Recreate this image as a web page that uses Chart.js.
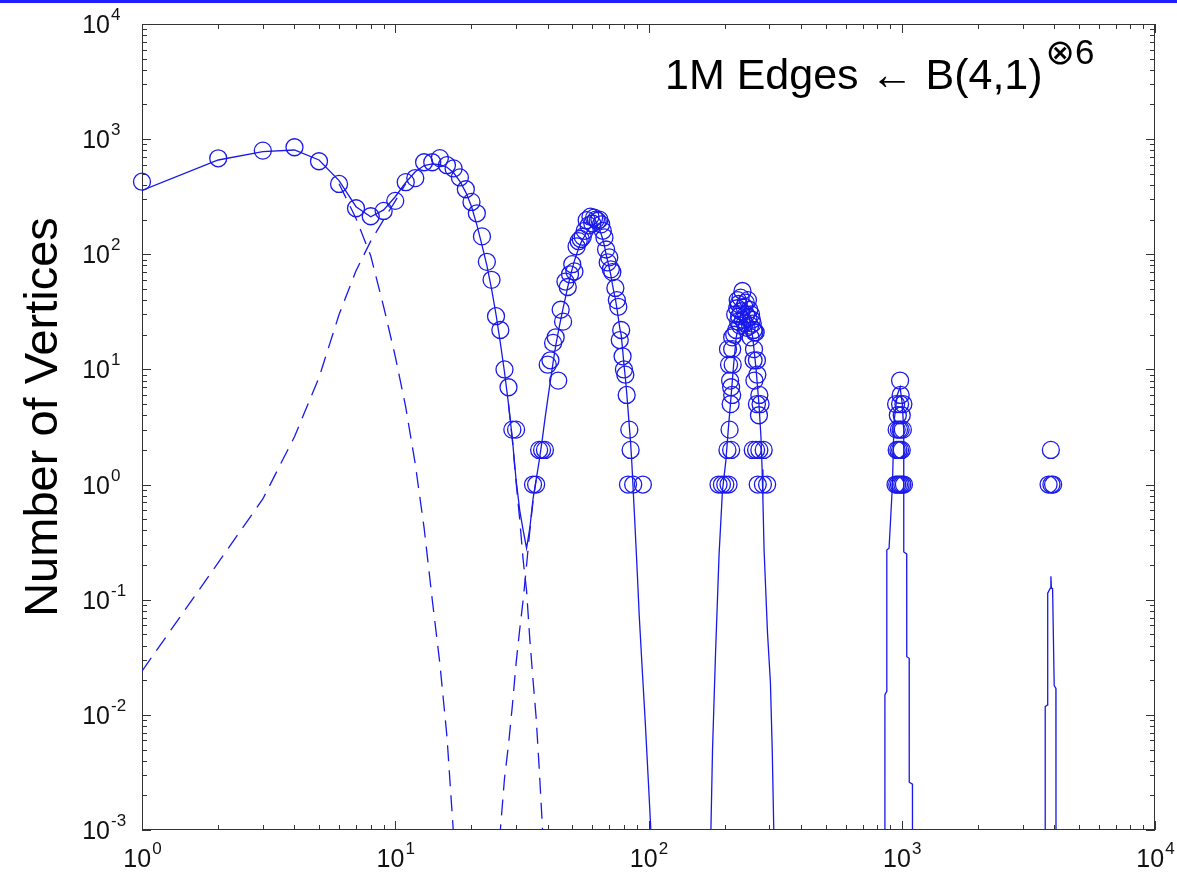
<!DOCTYPE html>
<html>
<head>
<meta charset="utf-8">
<title>Degree distribution, B(4,1)^6</title>
<script src="https://cdn.jsdelivr.net/npm/chart.js@4.4.1/dist/chart.umd.min.js"></script>
<style>
html,body{margin:0;padding:0;background:#fff;}
#wrap{position:relative;width:1177px;height:872px;}
#topline{position:absolute;left:0;top:0;width:1177px;height:3px;background:#1f1fff;}
</style>
</head>
<body>
<div id="wrap"><canvas id="deg-chart" width="1177" height="872"></canvas><div id="topline"></div></div>
<script>
/* measured degree distribution (circles) */
const obsDeg=[1,2,3,4,5,6,7,8,9,10,11,12,13,14,15,16,17,18,19,20,21,22,23,24,25,26,27,28,29,30,
  35,36,37,38,39,40,41,42,43,44,45,46,47,48,49,50,51,52,53,54,55,56,57,58,59,60,61,62,63,64,65,66,67,68,69,70,71,72,74,75,76,77,78,79,80,81,82,83,84,85,87,95,
  189,195,201,207,270,283,294,205,212,258,266,274,285,209,273,211,268,277,214,274,212,210,262,269,
  208,215,260,268,206,214,261,214,253,218,265,
  222,226,230,220,224,228,232,236,240,244,248,252,256,260,262,227,231,235,239,243,247,250,254,258,225,242,
  945,960,975,990,1005,1020,955,970,985,1000,955,975,990,1010,965,1000,950,985,1015,990,985,
  3800,3900,3960,3880];
const obsCount=[427,682,795,850,643,408,251,214,238,291,423,459,630,630,684,594,557,465,367,285,227,143,86,60,29,22,10,7,3,3,
  1,1,2,2,2,11,12,17,19,8,33,26,58,52,67,82,71,117,130,136,142,160,198,178,212,185,208,200,195,200,182,160,140,110,85,94,74,70,51,40,35,18,22,13,10,9,6,1,3,2,1,1,
  1,1,1,1,1,1,1,2,2,2,2,2,2,3,4,5,5,5,6,6,7,8,8,9,
  11,11,12,12,15,15,15,19,19,20,21,
  22,26,24,30,34,29,32,27,25,23,28,24,27,22,21,37,42,48,35,30,40,33,30,25,40,38,
  1,1,1,1,1,1,2,2,2,2,3,3,3,3,4,4,5,5,5,6,8,
  1,1,1,2];
/* model: sum of the humps (solid) */
const modelDeg=[1,2,3,4,5,6,7,8,9,10,11,12,13,14,15,16,17,18,19,20,21,22,23,24,25,26,27,28,29,30,
  31,32,33,34,35,36,37,38,39,40,41,42,43,44,45,46,47,48,49,50,51,52,53,54,55,56,57,58,59,60,
  61,62,63,64,65,66,67,68,69,70,71,72,73,74,75,76,77,78,79,80,81,82,83,84,85,86,87,88,90,92,95,97,100,103,140,
  176,179,184,190,196,202,207,211,216,222,232,240,250,258,266,273,278,281,283,286,295,303,308,313,500,
  857,858,872,873,891,919,932,960,985,1005,1018,1018.5,1046,1046.5,1070,1070.5,1102,1102.5,2000,
  3684,3686,3766,3770,3860,3881,3900,3941,3999,4061,4065];
const modelCount=[359,659,780,805,659,437,259,212,243,316,420,520,590,610,600,570,510,430,345,260,
  180,120,80,50,30,17,9.5,5,2.5,1.1,0.6,0.4,0.28,0.42,0.75,1.1,1.6,2.4,3.7,5.5,
  8,11.5,16,21,27,34,42,52,63,75,88,100,113,125,135,145,155,165,172,178,
  180,178,172,163,150,135,118,100,87,76,66,55,47,41,34,28,23,20,15,11,8.5,6.3,4.5,3.2,2.3,1.5,0.9,0.55,
  0.2,0.07,0.02,0.009,0.0025,0.0007,null,
  0.0008,0.005,0.035,0.25,0.9,1.6,3.2,5.2,10,19,31,34,28,19,10,5,2.6,1.35,0.74,0.27,0.052,0.019,0.005,0.0008,null,
  0.0007,0.015,0.016,0.27,0.28,1.0,3.5,6,7,5,3,0.26,0.25,0.032,0.031,0.0026,0.0025,0.0007,null,
  0.0008,0.0118,0.0122,0.114,0.126,0.16,0.126,0.125,0.018,0.017,0.0008];
/* single humps where they leave the sum (dashed) */
const hump1Deg=[6,7,8,9,10,11,12,13,14,15,16,17];
const hump1Count=[410,205,97,35,13,4.7,1.5,0.42,0.1,0.028,0.0065,0.0009];
const hump2Deg=[1,2,3,4,5,6,7,8,9,10,11,20,28,29,30,31,32,33,34,35,36,37,38,39];
const hump2Count=[0.024,0.21,0.75,2.6,8.5,30,72,130,200,290,410,null,5,2.45,1.05,0.5,0.22,0.12,0.045,0.02,0.0095,0.0035,0.0012,0.0004];
const hump3Deg=[25,26,27,28,29,30,31,32,33,34,35,36];
const hump3Count=[0.0003,0.001,0.0028,0.0055,0.012,0.028,0.055,0.1,0.2,0.4,0.72,1.1];
/* axes */
const xTickExp=[0,1,2,3,4];
const yTickExp=[-3,-2,-1,0,1,2,3,4];
const yTitle='Number of Vertices';
const noteMain='1M Edges \u2190 B(4,1)';
const noteSup='\u22976';

(function(){
  const BLUE='rgb(25,25,235)';
  const FONT='"Liberation Sans", Arial, Helvetica, sans-serif';
  function pts(xs,ys){return xs.map(function(x,i){return {x:x,y:ys[i]};});}
  function expStr(k){return String(k);}

  const matlabAxes={id:'matlabAxes',
    beforeDatasetsDraw(chart){
      const {ctx,chartArea:a,scales:{x,y}}=chart;
      ctx.save();
      ctx.strokeStyle='#333';ctx.lineWidth=1;
      ctx.strokeRect(a.left+0.5,a.top+0.5,a.right-a.left-1,a.bottom-a.top-1);
      ctx.beginPath();
      xTickExp.forEach(function(k,i){
        const last=i===xTickExp.length-1;
        for(let m=1;m<=(last?1:9);m++){
          const px=Math.round(x.getPixelForValue(m*Math.pow(10,k)))+0.5,len=m===1?9:5;
          ctx.moveTo(px,a.bottom);ctx.lineTo(px,a.bottom-len);
          ctx.moveTo(px,a.top);ctx.lineTo(px,a.top+len);
        }
      });
      yTickExp.forEach(function(k,i){
        const last=i===yTickExp.length-1;
        for(let m=1;m<=(last?1:9);m++){
          const py=Math.round(y.getPixelForValue(m*Math.pow(10,k)))+0.5,len=m===1?9:5;
          ctx.moveTo(a.left,py);ctx.lineTo(a.left+len,py);
          ctx.moveTo(a.right,py);ctx.lineTo(a.right-len,py);
        }
      });
      ctx.stroke();
      // tick labels, 10 with a raised exponent
      ctx.fillStyle='#111';ctx.textBaseline='alphabetic';
      xTickExp.forEach(function(k){
        const px=x.getPixelForValue(Math.pow(10,k));
        ctx.font='25px '+FONT;const wb=ctx.measureText('10').width;
        ctx.font='17px '+FONT;const we=ctx.measureText(expStr(k)).width;
        const x0=px-(wb+we)/2;
        ctx.font='25px '+FONT;ctx.textAlign='left';ctx.fillText('10',x0,867);
        ctx.font='17px '+FONT;ctx.fillText(expStr(k),x0+wb+1,854);
      });
      yTickExp.forEach(function(k){
        const py=y.getPixelForValue(Math.pow(10,k));
        ctx.font='25px '+FONT;ctx.textAlign='right';ctx.fillText('10',110,py+9);
        ctx.font='17px '+FONT;ctx.textAlign='left';ctx.fillText(expStr(k),111,py-4);
      });
      ctx.restore();
    },
    afterDraw(chart){
      const {ctx}=chart;
      ctx.save();ctx.fillStyle='#000';
      ctx.translate(57,417);ctx.rotate(-Math.PI/2);
      ctx.font='47px '+FONT;ctx.textAlign='center';ctx.textBaseline='alphabetic';
      ctx.fillText(yTitle,0,0);
      ctx.restore();
      ctx.save();ctx.fillStyle='#000';ctx.textAlign='left';ctx.textBaseline='alphabetic';
      ctx.font='43px '+FONT;ctx.fillText(noteMain,665,89);
      const w=ctx.measureText(noteMain).width;
      ctx.font='35px '+FONT+', "DejaVu Sans"';ctx.fillText(noteSup,665+w+3,64);
      ctx.restore();
    }
  };

  function init(){
    const el=document.getElementById('deg-chart');if(!el)return;
    const dash={showLine:true,borderColor:BLUE,borderWidth:1.3,borderDash:[16,9],pointRadius:0,clip:0,tension:0};
    new Chart(el,{type:'scatter',data:{datasets:[
      {label:'measured',data:pts(obsDeg,obsCount),showLine:false,pointRadius:8.5,pointBackgroundColor:'rgba(0,0,0,0)',pointBorderColor:BLUE,pointBorderWidth:1.3,clip:false},
      {label:'model',data:pts(modelDeg,modelCount),showLine:true,borderColor:BLUE,borderWidth:1.3,pointRadius:0,clip:0,tension:0},
      Object.assign({label:'hump 1',data:pts(hump1Deg,hump1Count)},dash),
      Object.assign({label:'hump 2',data:pts(hump2Deg,hump2Count)},dash),
      Object.assign({label:'hump 3',data:pts(hump3Deg,hump3Count)},dash)
    ]},options:{responsive:false,animation:false,devicePixelRatio:1,events:[],
      layout:{padding:{left:142,right:22,top:24,bottom:42}},
      scales:{x:{type:'logarithmic',min:1,max:10000,display:false},y:{type:'logarithmic',min:0.001,max:10000,display:false}},
      plugins:{legend:{display:false},tooltip:{enabled:false}}},
      plugins:[matlabAxes]});
  }
  document.addEventListener('DOMContentLoaded',init);
})();
</script>
</body>
</html>
